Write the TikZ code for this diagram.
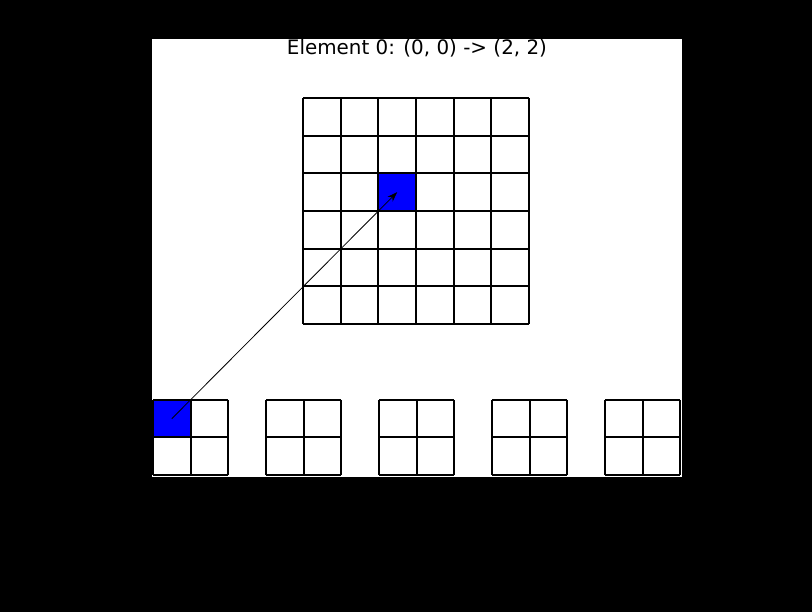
\documentclass[tikz,border=0pt]{standalone}
\usepackage{fontspec}
\setmainfont{DejaVu Sans}
\usetikzlibrary{arrows.meta}
\begin{document}
\begin{tikzpicture}[x=1pt,y=1pt,
  gridline/.style={line width=2pt,black},
  bluecell/.style={fill={rgb,255:red,0;green,0;blue,255}},
  conn/.style={line width=0.8pt,-{Stealth[length=10pt,width=7pt]}},
  titletext/.style={font=\fontsize{19.9}{23}\selectfont,inner sep=0pt}]
\useasboundingbox (0,0) rectangle (812,612);
\fill[black] (0,0) rectangle (812,612);
\fill[white] (152,135) rectangle (682,573);
\node[titletext] (title) at (417,563.5) {Element 0: (0, 0) -> (2, 2)};
% big grid
\pgfmathsetmacro{\bc}{226/6}
\fill[bluecell] (303+2*\bc,514-2*\bc) rectangle (303+3*\bc,514-3*\bc);
\coordinate (bigcell) at (303+2.5*\bc,514-2.5*\bc);
\foreach \i in {0,...,6}{
  \draw[gridline] (303+\i*\bc,514) -- (303+\i*\bc,514-6*\bc);
  \draw[gridline] (303,514-\i*\bc) -- (529,514-\i*\bc);
}
% small grids
\fill[bluecell] (153,212) rectangle (190.5,174.5);
\coordinate (smallcell) at (171.75,193.25);
\foreach \k in {0,...,4}{
  \pgfmathsetmacro{\xo}{153+113*\k}
  \foreach \i in {0,1,2}{
    \draw[gridline] (\xo+\i*37.5,212) -- (\xo+\i*37.5,137);
    \draw[gridline] (\xo,212-\i*37.5) -- (\xo+75,212-\i*37.5);
  }
}
\draw[conn] (smallcell) -- (bigcell);
\end{tikzpicture}
\end{document}
